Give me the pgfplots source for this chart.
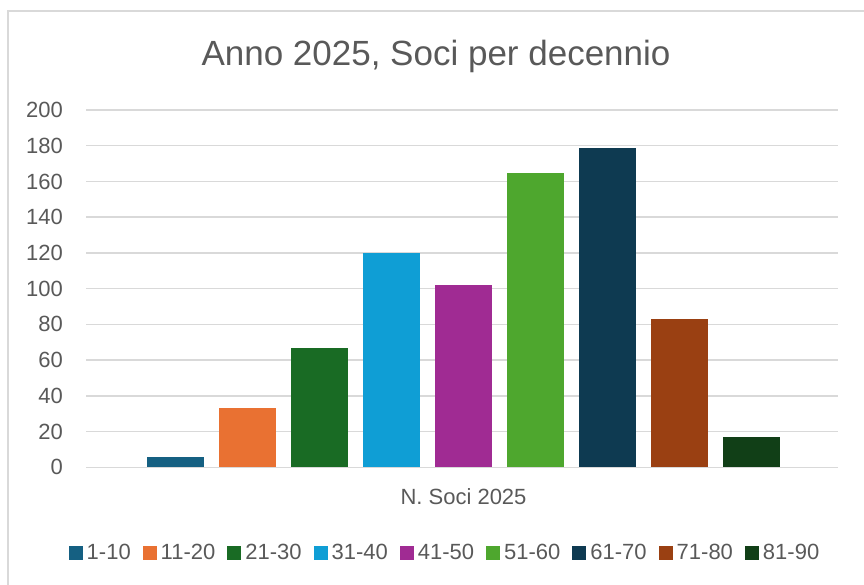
\documentclass[border=0pt]{standalone}
\usepackage{pgfplots}
\pgfplotsset{compat=1.18}
\usepackage{fontspec}
\setmainfont{Liberation Sans}
\definecolor{txt}{HTML}{595959}
\definecolor{grd}{HTML}{D9D9D9}
\definecolor{c1}{HTML}{156082}
\definecolor{c2}{HTML}{E97132}
\definecolor{c3}{HTML}{196B24}
\definecolor{c4}{HTML}{0F9ED5}
\definecolor{c5}{HTML}{A02B93}
\definecolor{c6}{HTML}{4EA72E}
\definecolor{c7}{HTML}{0E3A51}
\definecolor{c8}{HTML}{9A4012}
\definecolor{c9}{HTML}{113F17}
\begin{document}
\begin{tikzpicture}[x=1pt,y=1pt]
\path[use as bounding box] (0,0) rectangle (864,585);
\draw[grd, line width=1.5pt] (8,0) -- (8,574) -- (864,574);
\node[anchor=base, text=txt, font=\fontsize{35}{40}\selectfont] at (436,519) {Anno 2025, Soci per decennio};
\begin{axis}[
  at={(86pt,117.7pt)}, anchor=south west,
  scale only axis, width=752pt, height=357.3pt,
  xmin=-0.243, xmax=10.201, ymin=0, ymax=200,
  ytick={0,20,...,200},
  xtick={5}, xticklabels={N. Soci 2025},
  major tick length=0pt,
  axis line style={draw=none},
  ymajorgrids, major grid style={grd, line width=1.4pt},
  clip=false,
  /pgf/number format/assume math mode=true,
  tick label style={text=txt, font=\fontsize{22}{26}\selectfont},
  yticklabel style={inner sep=0pt, anchor=east, xshift=-23pt},
  xticklabel style={inner sep=0pt, anchor=north, yshift=-21pt},
  legend columns=9,
  legend style={draw=none, fill=none, at={(0.4787,-0.240)}, anchor=center,
    font=\fontsize{22}{26}\selectfont, text=txt,
    nodes={inner xsep=4pt, inner ysep=0pt},
    /tikz/every even column/.append style={column sep=8pt}},
  legend image code/.code={\fill[#1,draw=none] (0pt,-7pt) rectangle (14pt,7pt);},
  bar width=0.79,
]
\addplot[ybar, fill=c1, draw=none] coordinates {(1,6)};
\addlegendentry{1-10}
\addplot[ybar, fill=c2, draw=none] coordinates {(2,33)};
\addlegendentry{11-20}
\addplot[ybar, fill=c3, draw=none] coordinates {(3,67)};
\addlegendentry{21-30}
\addplot[ybar, fill=c4, draw=none] coordinates {(4,120)};
\addlegendentry{31-40}
\addplot[ybar, fill=c5, draw=none] coordinates {(5,102)};
\addlegendentry{41-50}
\addplot[ybar, fill=c6, draw=none] coordinates {(6,165)};
\addlegendentry{51-60}
\addplot[ybar, fill=c7, draw=none] coordinates {(7,179)};
\addlegendentry{61-70}
\addplot[ybar, fill=c8, draw=none] coordinates {(8,83)};
\addlegendentry{71-80}
\addplot[ybar, fill=c9, draw=none] coordinates {(9,17)};
\addlegendentry{81-90}
\end{axis}
\end{tikzpicture}
\end{document}
